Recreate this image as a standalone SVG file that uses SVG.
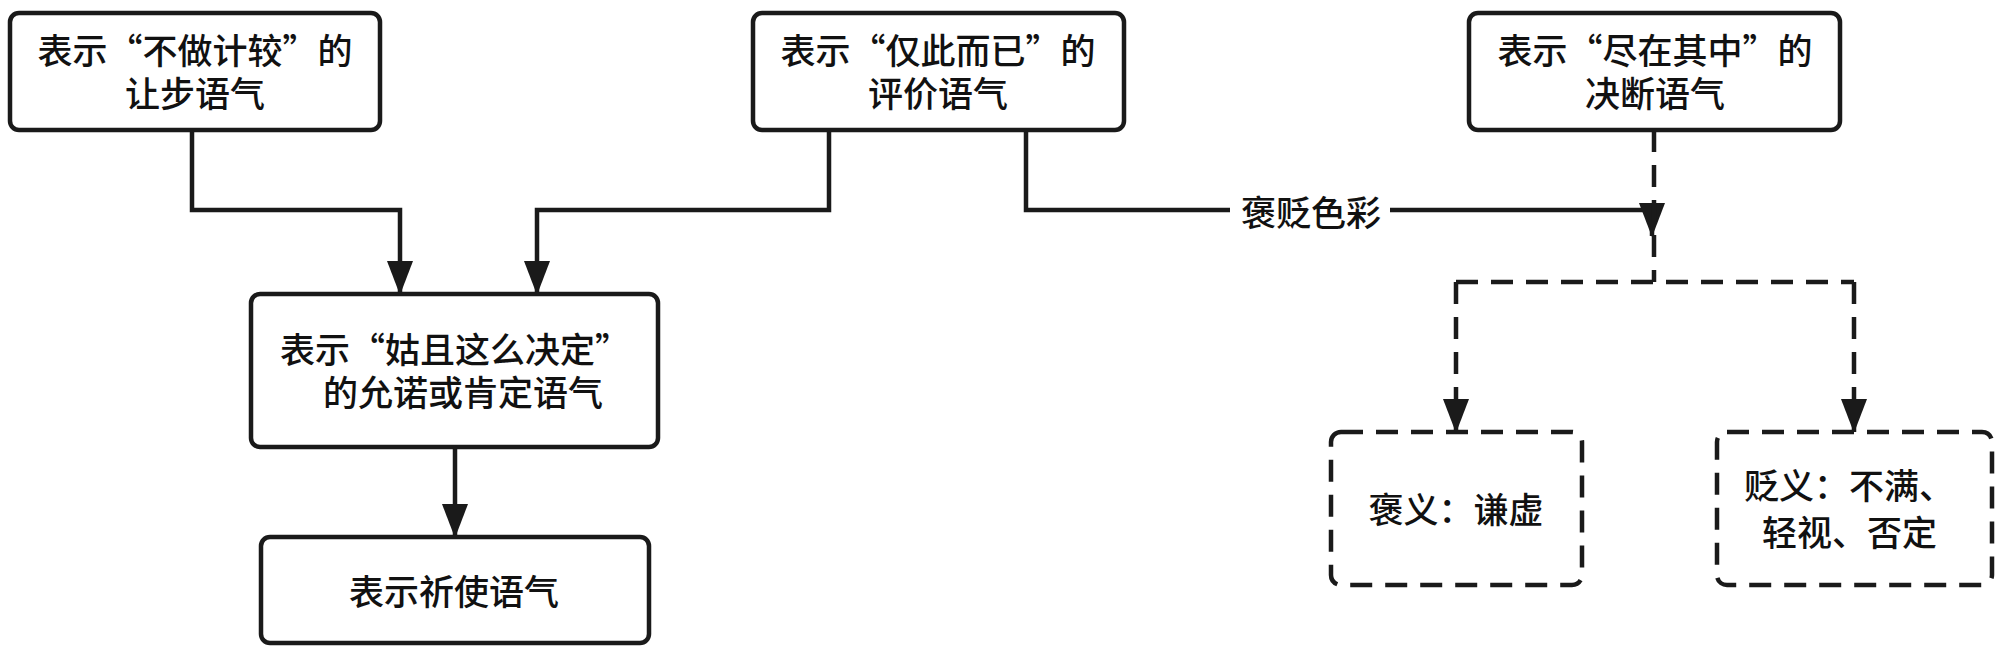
<svg xmlns="http://www.w3.org/2000/svg" width="2000" height="653" viewBox="0 0 2000 653">
<style>
.box{fill:#fff;stroke:#1a1a1a;stroke-width:4.5}
.dbox{fill:#fff;stroke:#1a1a1a;stroke-width:4.5;stroke-dasharray:22 13}
.t{font-family:"Noto Sans CJK SC","Noto Sans",sans-serif;font-size:35px;font-weight:500;fill:#111;text-anchor:middle;dominant-baseline:central}
.ts{font-family:"Noto Sans CJK SC","Noto Sans",sans-serif;font-size:35px;font-weight:500;fill:#111;dominant-baseline:central}
.ln{fill:none;stroke:#1a1a1a;stroke-width:4.5}
.dl{fill:none;stroke:#1a1a1a;stroke-width:4.5;stroke-dasharray:22 13}
</style>
<defs>
<marker id="arr" viewBox="0 0 34 26" refX="33" refY="13" markerWidth="34" markerHeight="26" orient="auto" markerUnits="userSpaceOnUse">
<path d="M0,0 L34,13 L0,26 z" fill="#1a1a1a"/>
</marker>
</defs>
<rect width="2000" height="653" fill="#fff"/>
<g id="connectors">
<path class="ln" d="M192,130 V210 H400 V294" marker-end="url(#arr)"/>
<path class="ln" d="M829,130 V210 H537 V294" marker-end="url(#arr)"/>
<path class="ln" d="M455,447 V537" marker-end="url(#arr)"/>
<path class="ln" d="M1026,130 V210 H1652 V236" marker-end="url(#arr)"/>
<rect x="1230" y="190" width="160" height="40" fill="#fff"/>
<text class="t" x="1311" y="210">褒贬色彩</text>
<path class="dl" d="M1654,130 V282"/>
<path class="dl" d="M1456,282 H1854"/>
<path class="dl" d="M1456,282 V432" marker-end="url(#arr)"/>
<path class="dl" d="M1854,282 V432" marker-end="url(#arr)"/>
</g>
<g id="node-rangbu">
<rect class="box" x="10" y="13" width="370" height="117" rx="9"/>
<text class="t"><tspan x="195" y="48">表示“不做计较”的</tspan><tspan x="195" y="91">让步语气</tspan></text>
</g>
<g id="node-pingjia">
<rect class="box" x="753" y="13" width="371" height="117" rx="9"/>
<text class="t"><tspan x="938" y="48">表示“仅此而已”的</tspan><tspan x="938" y="91">评价语气</tspan></text>
</g>
<g id="node-jueduan">
<rect class="box" x="1469" y="13" width="371" height="117" rx="9"/>
<text class="t"><tspan x="1655" y="48">表示“尽在其中”的</tspan><tspan x="1655" y="91">决断语气</tspan></text>
</g>
<g id="node-yunnuo">
<rect class="box" x="251" y="294" width="407" height="153" rx="9"/>
<text class="t"><tspan x="455" y="347">表示“姑且这么决定”</tspan><tspan x="463" y="390">的允诺或肯定语气</tspan></text>
</g>
<g id="node-qishi">
<rect class="box" x="261" y="537" width="388" height="106" rx="9"/>
<text class="t" x="454" y="589">表示祈使语气</text>
</g>
<g id="node-bao">
<rect class="dbox" x="1331" y="432" width="251" height="153" rx="10"/>
<text class="t" x="1456" y="507">褒义：谦虚</text>
</g>
<g id="node-bian">
<rect class="dbox" x="1717" y="432" width="275" height="153" rx="10"/>
<text class="ts"><tspan x="1744" y="483">贬义：不满、</tspan><tspan x="1762" y="530">轻视、否定</tspan></text>
</g>
</svg>
